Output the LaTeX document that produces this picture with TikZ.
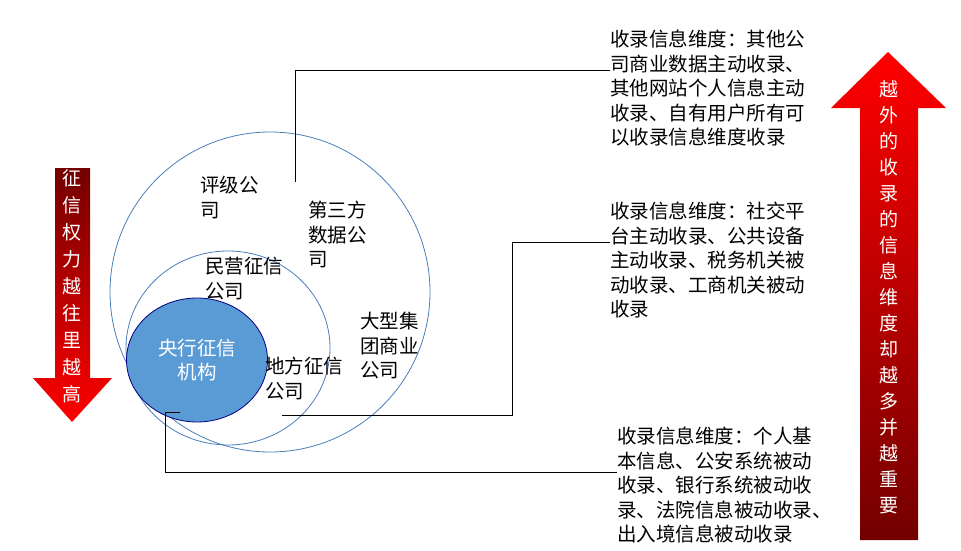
\documentclass[tikz,border=0pt]{standalone}
\usepackage{fontspec}
\setmainfont{Noto Sans CJK SC}
\usetikzlibrary{shapes.geometric}
\definecolor{cblue}{HTML}{5B9BD5}
\definecolor{cline}{HTML}{4A7EBB}
\begin{document}
\begin{tikzpicture}[x=1pt,y=-1pt,
  lbl/.style={font=\fontsize{19.5}{24.5}\selectfont,align=left,anchor=north west,inner sep=0},
  vtxt/.style={font=\fontsize{19}{27}\selectfont,align=center,text=white,inner sep=0},
  conn/.style={draw=black,line width=0.6pt}]
\useasboundingbox (0,0) rectangle (961,551);
\shade[top color=red!45!black,bottom color=red,draw=none] (55,168)--(90,168)--(90,378)--(112,378)--(72,422)--(33,378)--(55,378)--cycle;
\shade[top color=red,bottom color=red!45!black,draw=none] (888,52)--(946,108)--(918,108)--(918,540)--(860,540)--(860,108)--(831,108)--cycle;
\node[vtxt] (lt) at (72,286) {征\\信\\权\\力\\越\\往\\里\\越\\高};
\node[vtxt,font=\fontsize{19}{26}\selectfont] (rt) at (889,297) {越\\外\\的\\收\\录\\的\\信\\息\\维\\度\\却\\越\\多\\并\\越\\重\\要};
\draw[draw=cline,line width=0.8pt] (270,292) circle (160);
\draw[draw=cline,line width=0.8pt] (228,348) ellipse (102 and 97);
\node[draw=blue!50!black,fill=cblue,ellipse,line width=0.8pt,minimum width=141,minimum height=124,inner sep=0] (c) at (197,360) {};
\node[font=\fontsize{19.5}{24.5}\selectfont,align=center,text=white] at (c) {央行征信\\机构};
\node[lbl] (a1) at (200,176) {评级公\\司};
\node[lbl] (a2) at (308,201) {第三方\\数据公\\司};
\node[lbl] (a3) at (205,257) {民营征信\\公司};
\node[lbl] (a4) at (360,312) {大型集\\团商业\\公司};
\node[lbl] (a5) at (265,357) {地方征信\\公司};
\node[lbl] (t1) at (610,30) {收录信息维度：其他公\\司商业数据主动收录、\\其他网站个人信息主动\\收录、自有用户所有可\\以收录信息维度收录};
\node[lbl] (t2) at (610,202) {收录信息维度：社交平\\台主动收录、公共设备\\主动收录、税务机关被\\动收录、工商机关被动\\收录};
\node[lbl] (t3) at (617,427) {收录信息维度：个人基\\本信息、公安系统被动\\收录、银行系统被动收\\录、法院信息被动收录、\\出入境信息被动收录};
\coordinate (p1) at (295,182);
\coordinate (p2) at (282,415);
\coordinate (p3) at (180,412);
\draw[conn] (p1) -- (295,70) -- (t1.west |- 0,70);
\draw[conn] (p2) -- (512,415) -- (512,242) -- (t2.west |- 0,242);
\draw[conn] (p3) -- (165,412) -- (165,472) -- (t3.west |- 0,472);
\end{tikzpicture}
\end{document}
